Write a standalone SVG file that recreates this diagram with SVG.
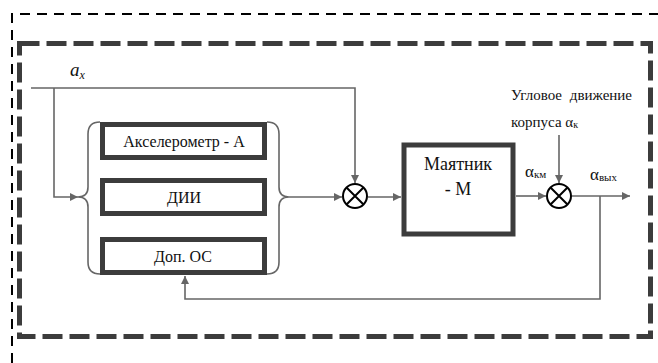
<svg xmlns="http://www.w3.org/2000/svg" width="658" height="363" viewBox="0 0 658 363">
<defs>
<marker id="arr" viewBox="0 0 10 10" refX="10" refY="5" markerWidth="9" markerHeight="8" markerUnits="userSpaceOnUse" orient="auto">
<path d="M0,0 L10,5 L0,10 Z" fill="#666"/>
</marker>
<style>
.ln{fill:none;stroke:#666;stroke-width:1.6}
.box{fill:#fff;stroke:#3c3c3c;stroke-width:5}
.sum{fill:#fff;stroke:#000;stroke-width:2}
.t{font-family:'Liberation Serif',serif;fill:#111}
</style>
</defs>
<rect width="658" height="363" fill="#fff"/>
<path d="M12,380 L12,14 L680,14" fill="none" stroke="#000" stroke-width="2" stroke-dasharray="10,7"/>
<rect x="19.5" y="43.5" width="631" height="293" fill="none" stroke="#3c3c3c" stroke-width="5" stroke-dasharray="20,7"/>

<g id="connectors">
<path class="ln" d="M31,88 L355,88 L355,183" marker-end="url(#arr)"/>
<path class="ln" d="M54,88 L54,197 L78,197" marker-end="url(#arr)"/>
<path class="ln" d="M100,122 Q88,122 88,134 L88,187 Q88,197 78,197 Q88,197 88,207 L88,262 Q88,274 100,274"/>
<path class="ln" d="M267,122 Q279,122 279,134 L279,187 Q279,197 289,197 Q279,197 279,207 L279,262 Q279,274 267,274"/>
<path class="ln" d="M289,197 L342,197" marker-end="url(#arr)"/>
<path class="ln" d="M368,197 L401,197" marker-end="url(#arr)"/>
<path class="ln" d="M516,196 L546,196" marker-end="url(#arr)"/>
<path class="ln" d="M559,135 L559,183" marker-end="url(#arr)"/>
<path class="ln" d="M572,196 L630,196" marker-end="url(#arr)"/>
<path class="ln" d="M600,196 L600,299 L185,299 L185,276" marker-end="url(#arr)"/>
</g>

<g id="input-ax">
<text class="t" x="70" y="76" font-size="19" font-style="italic">a<tspan font-size="12" dy="3">x</tspan></text>
</g>

<g id="accelerometer">
<rect class="box" x="102.5" y="124.5" width="162" height="33"/>
<text class="t" x="184" y="147" font-size="16" text-anchor="middle">Акселерометр - А</text>
</g>
<g id="dii">
<rect class="box" x="102.5" y="180.5" width="162" height="33"/>
<text class="t" x="184" y="203" font-size="16" text-anchor="middle">ДИИ</text>
</g>
<g id="dop-os">
<rect class="box" x="102.5" y="239.5" width="162" height="33"/>
<text class="t" x="183" y="262" font-size="16" text-anchor="middle">Доп. ОС</text>
</g>

<g id="sum1">
<circle class="sum" cx="355" cy="196" r="12"/>
<path d="M346.5,187.5 L363.5,204.5 M363.5,187.5 L346.5,204.5" stroke="#000" stroke-width="2"/>
</g>

<g id="pendulum">
<rect class="box" x="404" y="145" width="109" height="89" stroke-width="6"/>
<text class="t" x="458" y="170" font-size="18" text-anchor="middle">Маятник</text>
<text class="t" x="458" y="195" font-size="18" text-anchor="middle">- М</text>
</g>

<g id="sum2">
<circle class="sum" cx="559" cy="196" r="12"/>
<path d="M550.5,187.5 L567.5,204.5 M567.5,187.5 L550.5,204.5" stroke="#000" stroke-width="2"/>
</g>

<g id="labels">
<text class="t" x="525" y="177" font-size="17">α<tspan font-size="11" dy="1">км</tspan></text>
<text class="t" x="590" y="180" font-size="17">α<tspan font-size="11" dy="1">вых</tspan></text>
<text class="t" x="511" y="100" font-size="15" word-spacing="4">Угловое движение</text>
<text class="t" x="511" y="127" font-size="15">корпуса α<tspan font-size="10" dy="1">к</tspan></text>
</g>
</svg>
